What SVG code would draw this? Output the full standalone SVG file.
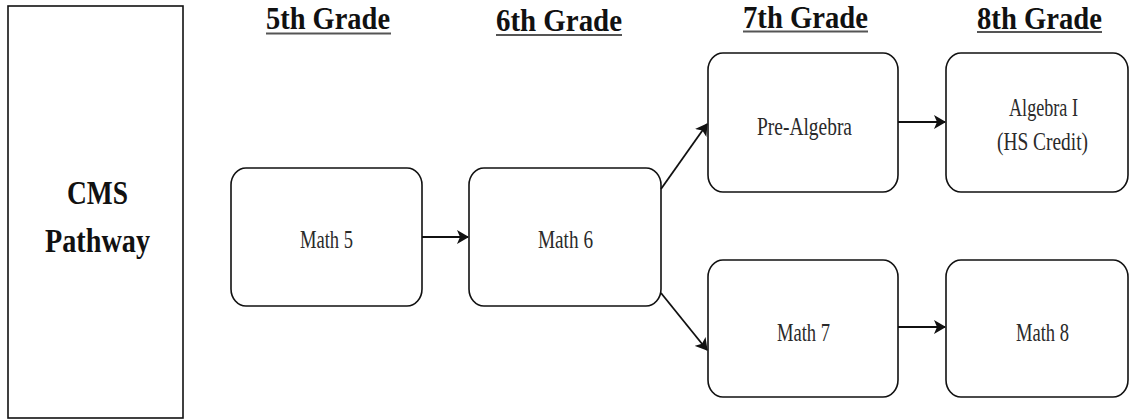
<svg xmlns="http://www.w3.org/2000/svg" width="1131" height="419" viewBox="0 0 1131 419">
<defs>
<style>
.box{fill:#fff;stroke:#111;stroke-width:1.6}
.hdr{font-weight:bold;font-size:32px;fill:#111}
.ul{stroke:#555;stroke-width:2}
.lbl{font-size:26px;fill:#2a2a2a}
.big{font-weight:bold;font-size:33px;fill:#111}
.con{fill:none;stroke:#111;stroke-width:1.8;marker-end:url(#arr)}
</style>
<marker id="arr" viewBox="0 0 12 14" refX="11" refY="7" markerWidth="12" markerHeight="14" markerUnits="userSpaceOnUse" orient="auto">
<path d="M0,0 L12,7 L0,14 L3,7 Z" fill="#111"/>
</marker>
</defs>
<rect width="1131" height="419" fill="#fff"/>

<g font-family="Liberation Serif, DejaVu Serif, serif">
<g id="headers">
<text class="hdr" x="266" y="29" textLength="124" lengthAdjust="spacingAndGlyphs">5th Grade</text>
<line class="ul" x1="266" y1="33.5" x2="391" y2="33.5"/>
<text class="hdr" x="496" y="31" textLength="126" lengthAdjust="spacingAndGlyphs">6th Grade</text>
<line class="ul" x1="496" y1="35" x2="622" y2="35"/>
<text class="hdr" x="743" y="28" textLength="125" lengthAdjust="spacingAndGlyphs">7th Grade</text>
<line class="ul" x1="743" y1="31.5" x2="868" y2="31.5"/>
<text class="hdr" x="977" y="28.5" textLength="125" lengthAdjust="spacingAndGlyphs">8th Grade</text>
<line class="ul" x1="977" y1="32" x2="1102" y2="32"/>
</g>

<g id="cms">
<rect x="8" y="6" width="175" height="412" fill="#fff" stroke="#111" stroke-width="1.6"/>
<text class="big" x="67" y="204" textLength="61" lengthAdjust="spacingAndGlyphs">CMS</text>
<text class="big" x="45" y="252" textLength="105" lengthAdjust="spacingAndGlyphs">Pathway</text>
</g>

<g id="math5">
<rect class="box" x="231" y="168" width="191" height="138" rx="15" ry="17"/>
<text class="lbl" x="300" y="248" textLength="53" lengthAdjust="spacingAndGlyphs">Math 5</text>
</g>

<g id="math6">
<rect class="box" x="469" y="168" width="192" height="138" rx="15" ry="17"/>
<text class="lbl" x="538" y="248" textLength="55" lengthAdjust="spacingAndGlyphs">Math 6</text>
</g>

<g id="prealgebra">
<rect class="box" x="708" y="53" width="190" height="139" rx="15" ry="17"/>
<text class="lbl" x="757" y="135" textLength="95" lengthAdjust="spacingAndGlyphs">Pre-Algebra</text>
</g>

<g id="math7">
<rect class="box" x="708" y="260" width="190" height="137" rx="15" ry="17"/>
<text class="lbl" x="777" y="341" textLength="53" lengthAdjust="spacingAndGlyphs">Math 7</text>
</g>

<g id="algebra1">
<rect class="box" x="946" y="53" width="182" height="139" rx="15" ry="17"/>
<text class="lbl" x="1009" y="116" textLength="69" lengthAdjust="spacingAndGlyphs">Algebra I</text>
<text class="lbl" x="997" y="150" textLength="91" lengthAdjust="spacingAndGlyphs">(HS Credit)</text>
</g>

<g id="math8">
<rect class="box" x="946" y="260" width="182" height="137" rx="15" ry="17"/>
<text class="lbl" x="1016" y="341" textLength="53" lengthAdjust="spacingAndGlyphs">Math 8</text>
</g>
</g>

<g id="connectors">
<line class="con" x1="422" y1="237" x2="468" y2="237"/>
<line class="con" x1="661" y1="189" x2="707" y2="124"/>
<line class="con" x1="661" y1="293" x2="707" y2="350"/>
<line class="con" x1="898" y1="122" x2="945" y2="122"/>
<line class="con" x1="898" y1="327" x2="945" y2="327"/>
</g>
</svg>
